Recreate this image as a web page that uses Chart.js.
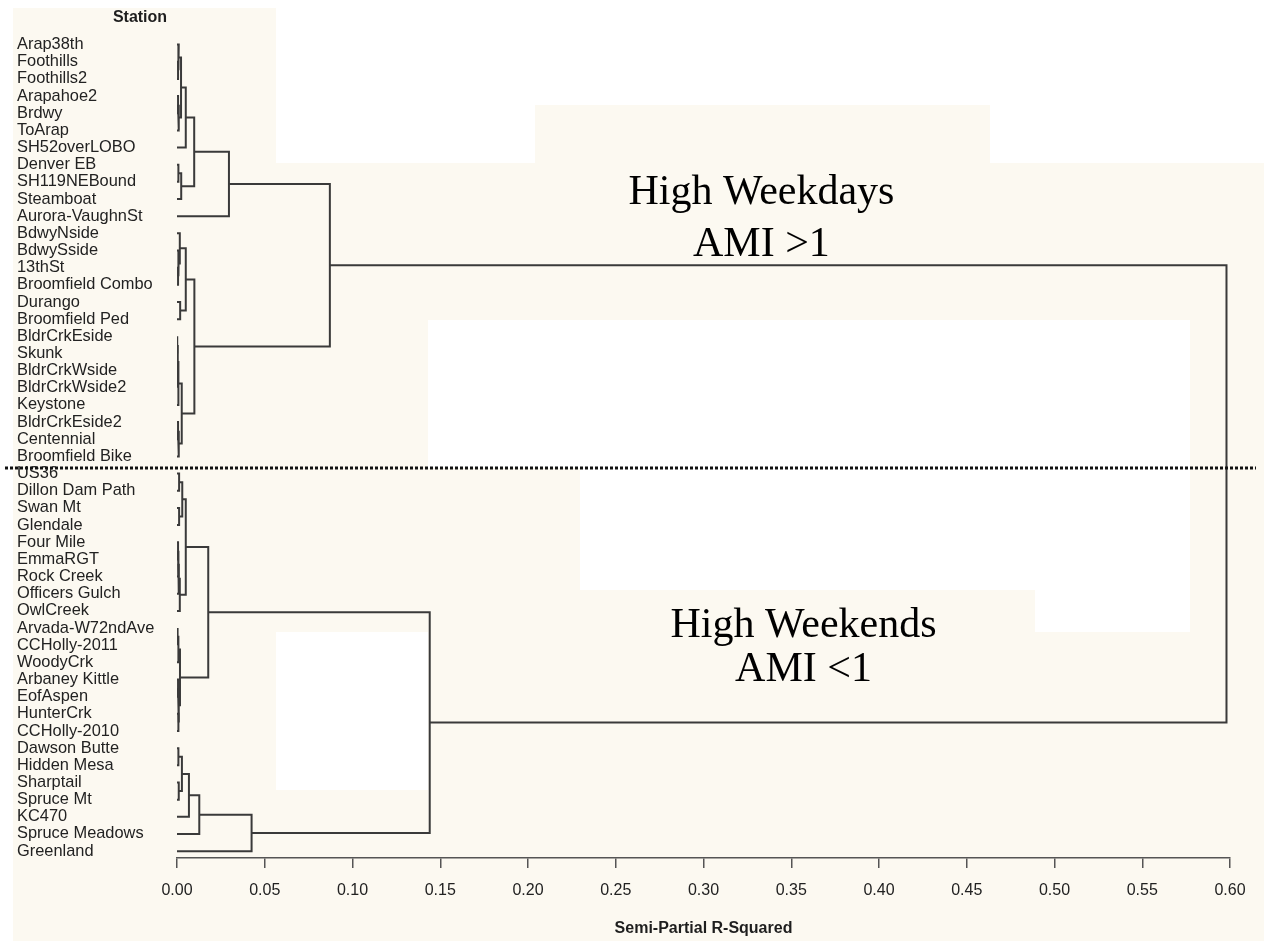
<!DOCTYPE html>
<html>
<head>
<meta charset="utf-8">
<title>Station dendrogram</title>
<script src="https://cdn.jsdelivr.net/npm/chart.js@4.4.1/dist/chart.umd.min.js"></script>
<style>
  html, body { margin: 0; padding: 0; background: #fff; }
  #wrap { width: 1264px; height: 941px; position: relative; }
</style>
</head>
<body>
<div id="wrap"><canvas id="dendro"></canvas></div>
<script>
// stations, top to bottom (row 1 .. 48)
const stations = [
  'Arap38th', 'Foothills', 'Foothills2', 'Arapahoe2', 'Brdwy', 'ToArap', 'SH52overLOBO',
  'Denver EB', 'SH119NEBound', 'Steamboat', 'Aurora-VaughnSt', 'BdwyNside', 'BdwySside',
  '13thSt', 'Broomfield Combo', 'Durango', 'Broomfield Ped', 'BldrCrkEside', 'Skunk',
  'BldrCrkWside', 'BldrCrkWside2', 'Keystone', 'BldrCrkEside2', 'Centennial', 'Broomfield Bike',
  'US36', 'Dillon Dam Path', 'Swan Mt', 'Glendale', 'Four Mile', 'EmmaRGT', 'Rock Creek',
  'Officers Gulch', 'OwlCreek', 'Arvada-W72ndAve', 'CCHolly-2011', 'WoodyCrk', 'Arbaney Kittle',
  'EofAspen', 'HunterCrk', 'CCHolly-2010', 'Dawson Butte', 'Hidden Mesa', 'Sharptail',
  'Spruce Mt', 'KC470', 'Spruce Meadows', 'Greenland'
];

// merge steps: negative = station row, positive = earlier merge step
const mergeLeft  = [-2, -1, -4, 3, 2, 5, -8, 7, 6, 9, -14, -13, -12, -16, 13, -18, -20, 16, 18, -23, 20, 19, 15, 10,
                    -26, -28, 25, -30, 28, 29, 30, 27, -35, 33, -38, -40, 35, 34, 32, -42, -44, 40, 42, 43, 44, 39, 24];
const mergeRight = [-3, 1, -5, -6, 4, -7, -9, -10, 8, -11, -15, 11, 12, -17, 14, -19, -21, 17, -22, -24, -25, 21, 22, 23,
                    -27, -29, 26, -31, -32, -33, -34, 31, -36, -37, -39, -41, 36, 37, 38, -43, -45, 41, -46, -47, -48, 45, 46];
// semi-partial R-squared at each merge
const mergeHeight = [0.0006, 0.0010, 0.0006, 0.0010, 0.0023, 0.0050, 0.0008, 0.0024, 0.0098, 0.0296,
                     0.0006, 0.0010, 0.0016, 0.0018, 0.0050, 0.0002, 0.0003, 0.0005, 0.0008, 0.0006,
                     0.0010, 0.0027, 0.0099, 0.0871,
                     0.0012, 0.0012, 0.0030, 0.0006, 0.0008, 0.0010, 0.0016, 0.0050, 0.0005, 0.0008,
                     0.0006, 0.0008, 0.0011, 0.0017, 0.0178, 0.0008, 0.0010, 0.0028, 0.0068, 0.0127,
                     0.0425, 0.1440, 0.5980];

const axisMax = 0.6;
const axisStep = 0.05;
const groupNotes = ['High Weekdays', 'AMI >1', 'High Weekends', 'AMI <1'];

// build the bracket of every merge
const nodeY = [];
const nodeH = [];
const childY = c => (c < 0 ? -c : nodeY[c - 1]);
const childH = c => (c < 0 ? 0 : nodeH[c - 1]);

const datasets = mergeHeight.map((h, i) => {
  const a = mergeLeft[i], b = mergeRight[i];
  const ya = childY(a), yb = childY(b);
  nodeY[i] = (ya + yb) / 2;
  nodeH[i] = h;
  return {
    data: [
      { x: childH(a), y: ya },
      { x: h, y: ya },
      { x: h, y: yb },
      { x: childH(b), y: yb }
    ],
    showLine: true,
    borderColor: '#3a3a3a',
    borderWidth: 2,
    pointRadius: 0,
    tension: 0,
    fill: false
  };
});

const paperPlugin = {
  id: 'paper',
  beforeDraw(chart) {
    const { ctx, width, height } = chart;
    ctx.save();
    ctx.fillStyle = '#ffffff';
    ctx.fillRect(0, 0, width, height);
    ctx.fillStyle = '#fcf9f1';
    ctx.fillRect(13, 8, width - 13, height - 8);
    ctx.fillStyle = '#ffffff';
    [[276, 0, 988, 105], [276, 105, 259, 58], [990, 105, 274, 58],
     [428, 320, 762, 148], [580, 468, 610, 122], [1035, 590, 155, 42],
     [276, 632, 152, 158]].forEach(r => ctx.fillRect(r[0], r[1], r[2], r[3]));
    ctx.restore();
  }
};

const notesPlugin = {
  id: 'notes',
  afterDraw(chart) {
    const { ctx, scales } = chart;
    const x = scales.x, y = scales.y;
    ctx.save();
    // header over the station names
    ctx.fillStyle = '#1e1e1e';
    ctx.font = 'bold 16px "Liberation Sans", Arial, sans-serif';
    ctx.textAlign = 'center';
    ctx.textBaseline = 'middle';
    ctx.fillText('Station', 140, 18);

    // split between the two groups
    const yCut = y.getPixelForValue(25.67);
    ctx.strokeStyle = '#111';
    ctx.lineWidth = 3;
    ctx.setLineDash([3, 2]);
    ctx.beginPath();
    ctx.moveTo(5, yCut);
    ctx.lineTo(1256, yCut);
    ctx.stroke();
    ctx.setLineDash([]);

    ctx.font = '42px "Liberation Serif", "Times New Roman", serif';
    ctx.fillStyle = '#000';
    ctx.textBaseline = 'alphabetic';
    const spots = [[0.333, 10.3], [0.333, 13.3], [0.357, 35.5], [0.357, 38.1]];
    groupNotes.forEach((t, i) => {
      ctx.fillText(t, x.getPixelForValue(spots[i][0]), y.getPixelForValue(spots[i][1]));
    });
    ctx.restore();
  }
};

new Chart(document.getElementById('dendro'), {
  type: 'scatter',
  data: { datasets },
  options: {
    responsive: true,
    maintainAspectRatio: false,
    animation: false,
    layout: { padding: { left: 17, top: 36, right: 34, bottom: 0 } },
    plugins: {
      legend: { display: false },
      tooltip: { enabled: false }
    },
    scales: {
      x: {
        type: 'linear',
        position: 'bottom',
        min: 0,
        max: axisMax,
        afterFit: s => { s.height = 83; },
        grid: { drawOnChartArea: false, drawTicks: true, tickLength: 10, color: '#555', lineWidth: 1.5 },
        border: { display: true, color: '#555', width: 1.5 },
        ticks: {
          stepSize: axisStep,
          autoSkip: false,
          maxRotation: 0,
          padding: 13,
          color: '#222',
          font: { size: 16, family: '"Liberation Sans", Arial, sans-serif' },
          callback: v => Number(v).toFixed(2)
        },
        title: {
          display: true,
          text: 'Semi-Partial R-Squared',
          color: '#1e1e1e',
          font: { size: 16, weight: 'bold', family: '"Liberation Sans", Arial, sans-serif' },
          padding: { top: 0, bottom: 3 }
        }
      },
      y: {
        type: 'linear',
        reverse: true,
        min: 0.5,
        max: 48.4,
        afterBuildTicks: s => { s.ticks = stations.map((_, i) => ({ value: i + 1 })); },
        afterFit: s => { s.width = 160; },
        grid: { display: false },
        border: { display: false },
        ticks: {
          autoSkip: false,
          crossAlign: 'far',
          padding: 0,
          color: '#222',
          font: { size: 16.4, family: '"Liberation Sans", Arial, sans-serif' },
          callback: v => stations[v - 1]
        }
      }
    }
  },
  plugins: [paperPlugin, notesPlugin]
});
</script>
</body>
</html>
